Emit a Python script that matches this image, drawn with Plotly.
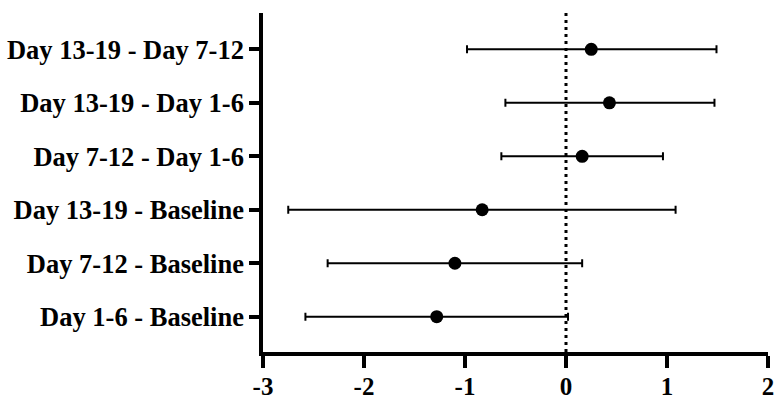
import plotly.graph_objects as go

comparisons = [
    "Day 1-6 - Baseline",
    "Day 7-12 - Baseline",
    "Day 13-19 - Baseline",
    "Day 7-12 - Day 1-6",
    "Day 13-19 - Day 1-6",
    "Day 13-19 - Day 7-12",
]
mean_diff = [-1.28, -1.10, -0.83, 0.16, 0.43, 0.25]
ci_lower = [-2.58, -2.36, -2.75, -0.64, -0.60, -0.98]
ci_upper = [0.02, 0.16, 1.085, 0.96, 1.47, 1.49]

x_tickvals = [-3, -2, -1, 0, 1, 2]
x_ticktext = ["-3", "-2", "-1", "0", "1", "2"]

err_plus = [u - m for u, m in zip(ci_upper, mean_diff)]
err_minus = [m - l for m, l in zip(mean_diff, ci_lower)]

font_family = "Liberation Serif"

fig = go.Figure()

fig.add_trace(go.Scatter(
    x=mean_diff,
    y=comparisons,
    mode="markers",
    marker=dict(color="black", size=13, symbol="circle"),
    error_x=dict(type="data", symmetric=False, array=err_plus, arrayminus=err_minus,
                 color="black", thickness=2, width=4),
    showlegend=False,
))

fig.add_shape(type="line", xref="x", yref="paper", x0=0, x1=0, y0=0, y1=1,
              line=dict(color="black", width=3, dash="3px,4px"))

fig.update_layout(
    width=775, height=401,
    margin=dict(l=263, r=7, t=13, b=49),
    paper_bgcolor="white",
    plot_bgcolor="white",
    xaxis=dict(
        range=[-3, 2],
        tickvals=x_tickvals, ticktext=x_ticktext,
        showgrid=False, zeroline=False, automargin=False,
        ticklabeloverflow="allow", ticklabelstandoff=-3,
        showline=True, linecolor="black", linewidth=3.5,
        ticks="outside", ticklen=12, tickwidth=3.5, tickcolor="black",
        tickfont=dict(family=font_family, size=25, color="black", weight="bold"),
    ),
    yaxis=dict(
        type="category",
        categoryorder="array", categoryarray=comparisons,
        range=[-0.66, 5.68],
        showgrid=False, zeroline=False, automargin=False,
        ticklabeloverflow="allow",
        showline=True, linecolor="black", linewidth=3.5,
        ticks="outside", ticklen=10, tickwidth=3.5, tickcolor="black",
        tickfont=dict(family=font_family, size=26.5, color="black", weight="bold"),
    ),
)

fig.write_html(
    "out.html",
    config={"displayModeBar": False},
    post_script="document.body.style.margin='0';document.body.style.overflow='hidden';",
)
